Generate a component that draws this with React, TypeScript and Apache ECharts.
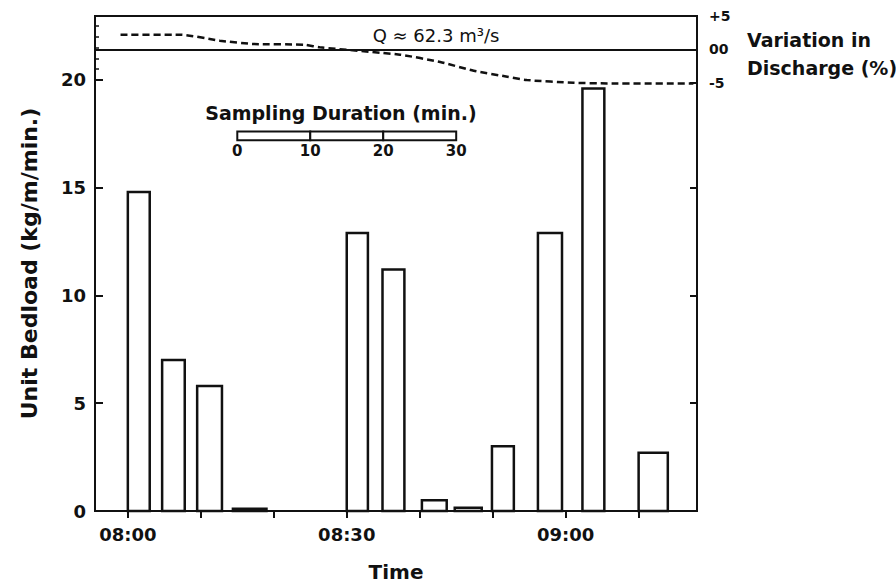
import React, { useEffect, useRef } from "react";
import * as echarts from "echarts";

// ---- data ----
const timeTickMinutes = [0, 10, 20, 30, 40, 50, 60, 70];
const timeLabelMinutes = [0, 30, 60];
const timeLabels = ["08:00", "08:30", "09:00"];
const bedloadTicks = [0, 5, 10, 15, 20];
const bedloadMinorTicks = [20.5, 21, 21.5, 22, 22.5];
const bedloadRightTicks = [5, 10, 15];
// sampling intervals (minutes after 08:00) and unit bedload (kg/m/min.)
const sampleStart = [0, 4.7, 9.5, 14.4, 30, 34.9, 40.3, 44.8, 49.9, 56.2, 62.3, 70];
const sampleEnd = [3, 7.8, 12.9, 19, 32.9, 37.9, 43.7, 48.5, 52.9, 59.5, 65.3, 74];
const unitBedload = [14.8, 7.0, 5.8, 0.1, 12.9, 11.2, 0.5, 0.15, 3.0, 12.9, 19.6, 2.7];
// discharge variation (%)
const dischargeTime = [-1, 7.2, 12.6, 17.3, 24.2, 26.3, 37.3, 42.8, 47.4, 52, 54.7, 61.1, 65.7, 77.5];
const dischargeVariation = [2.2, 2.2, 1.3, 0.8, 0.7, 0.3, -0.8, -1.9, -3.2, -4.1, -4.6, -5.0, -5.1, -5.1];
const dischargeTicks = [5, 0, -5];
const dischargeTickLabels = ["+5", "00", "-5"];
const scaleBarMinutes = [0, 10, 20, 30];

const FONT = '"DejaVu Sans", sans-serif';
const INK = "#111";

export default function App() {
  const ref = useRef<HTMLDivElement>(null);

  useEffect(() => {
    if (!ref.current) return;
    const chart = echarts.init(ref.current, undefined, { renderer: "svg" });

    const barData = sampleStart.map((s, i) => [s, sampleEnd[i], unitBedload[i]]);
    const dischargeData = dischargeTime.map((t, i) => [t, dischargeVariation[i]]);

    const scaleOrigin = 15;
    const scaleY0 = 17.2;
    const scaleY1 = 17.6;

    const option: any = {
      animation: false,
      backgroundColor: "#fff",
      grid: {
        left: 95,
        right: 199,
        top: 16,
        bottom: 74,
        show: true,
        borderColor: INK,
        borderWidth: 2,
        backgroundColor: "transparent",
      },
      xAxis: {
        type: "value",
        min: -4.5,
        max: 78,
        name: "Time",
        nameLocation: "middle",
        nameGap: 51,
        nameTextStyle: { fontFamily: FONT, fontSize: 20, fontWeight: "bold", color: INK },
        axisLine: { show: true, onZero: false, lineStyle: { color: INK, width: 2 } },
        axisTick: {
          show: true,
          inside: false,
          length: 7,
          customValues: timeTickMinutes,
          lineStyle: { color: INK, width: 2 },
        },
        axisLabel: {
          customValues: timeLabelMinutes,
          margin: 14,
          fontFamily: FONT,
          fontSize: 18,
          fontWeight: "bold",
          color: INK,
          formatter: (v: number) => {
            const i = timeLabelMinutes.indexOf(Math.round(v));
            return i >= 0 ? timeLabels[i] : "";
          },
        },
        splitLine: { show: false },
      },
      yAxis: [
        {
          type: "value",
          position: "left",
          min: 0,
          max: 22.96,
          name: "Unit Bedload (kg/m/min.)",
          nameLocation: "middle",
          nameGap: 55,
          nameTextStyle: { fontFamily: FONT, fontSize: 22, fontWeight: "bold", color: INK },
          axisLine: { show: true, onZero: false, lineStyle: { color: INK, width: 2 } },
          axisTick: {
            show: true,
            inside: true,
            length: 8,
            customValues: bedloadTicks,
            lineStyle: { color: INK, width: 2 },
          },
          axisLabel: {
            customValues: bedloadTicks,
            margin: 9,
            fontFamily: FONT,
            fontSize: 18,
            fontWeight: "bold",
            color: INK,
          },
          splitLine: { show: false },
        },
        {
          type: "value",
          position: "left",
          min: 0,
          max: 22.96,
          axisLine: { show: false, onZero: false },
          axisTick: {
            show: true,
            inside: true,
            length: 4,
            customValues: bedloadMinorTicks,
            lineStyle: { color: INK, width: 1.5 },
          },
          axisLabel: { show: false },
          splitLine: { show: false },
        },
        {
          type: "value",
          position: "right",
          min: 0,
          max: 22.96,
          axisLine: { show: true, onZero: false, lineStyle: { color: INK, width: 2 } },
          axisTick: {
            show: true,
            inside: true,
            length: 7,
            customValues: bedloadRightTicks,
            lineStyle: { color: INK, width: 2 },
          },
          axisLabel: { show: false },
          splitLine: { show: false },
        },
        {
          type: "value",
          position: "right",
          min: -69.18,
          max: 5,
          axisLine: { show: false, onZero: false },
          axisTick: {
            show: true,
            inside: true,
            length: 7,
            customValues: dischargeTicks,
            lineStyle: { color: INK, width: 2 },
          },
          axisLabel: {
            customValues: dischargeTicks,
            margin: 12,
            fontFamily: FONT,
            fontSize: 14,
            fontWeight: "bold",
            color: INK,
            formatter: (v: number) => {
              const i = dischargeTicks.indexOf(Math.round(v));
              return i >= 0 ? dischargeTickLabels[i] : "";
            },
          },
          splitLine: { show: false },
        },
      ],
      series: [
        {
          type: "custom",
          name: "Unit bedload",
          xAxisIndex: 0,
          yAxisIndex: 0,
          data: barData,
          encode: { x: [0, 1], y: 2 },
          renderItem: (params: any, api: any) => {
            const p0 = api.coord([api.value(0), 0]);
            const p1 = api.coord([api.value(1), api.value(2)]);
            return {
              type: "rect",
              shape: { x: p0[0], y: p1[1], width: p1[0] - p0[0], height: p0[1] - p1[1] },
              style: { fill: "#fff", stroke: INK, lineWidth: 2.5 },
            };
          },
          z: 2,
        },
        {
          type: "line",
          name: "Variation in discharge",
          xAxisIndex: 0,
          yAxisIndex: 3,
          data: dischargeData,
          smooth: 0.2,
          symbol: "none",
          lineStyle: { color: INK, width: 2.5, type: [7, 4] },
          markLine: {
            silent: true,
            symbol: ["none", "none"],
            label: { show: false },
            lineStyle: { type: "solid", color: INK, width: 2 },
            data: [{ yAxis: 0 }],
          },
          z: 3,
        },
        {
          type: "custom",
          name: "Sampling duration scale",
          xAxisIndex: 0,
          yAxisIndex: 0,
          data: [[scaleOrigin, scaleY0]],
          renderItem: (params: any, api: any) => {
            const children: any[] = [];
            for (let i = 0; i < scaleBarMinutes.length - 1; i++) {
              const a = api.coord([scaleOrigin + scaleBarMinutes[i], scaleY1]);
              const b = api.coord([scaleOrigin + scaleBarMinutes[i + 1], scaleY0]);
              children.push({
                type: "rect",
                shape: { x: a[0], y: a[1], width: b[0] - a[0], height: b[1] - a[1] },
                style: { fill: "#fff", stroke: INK, lineWidth: 2 },
              });
            }
            scaleBarMinutes.forEach((m) => {
              const p = api.coord([scaleOrigin + m, 16.7]);
              children.push({
                type: "text",
                x: p[0],
                y: p[1],
                style: {
                  text: String(m),
                  align: "center",
                  verticalAlign: "middle",
                  font: `bold 15px ${FONT}`,
                  fill: INK,
                },
              });
            });
            const t = api.coord([scaleOrigin + 14.2, 18.45]);
            children.push({
              type: "text",
              x: t[0],
              y: t[1],
              style: {
                text: "Sampling Duration (min.)",
                align: "center",
                verticalAlign: "middle",
                font: `bold 19px ${FONT}`,
                fill: INK,
              },
            });
            return { type: "group", children };
          },
          z: 4,
        },
      ],
      graphic: [
        {
          type: "text",
          x: 436,
          y: 35,
          style: {
            text: "Q ≈ 62.3 m³/s",
            align: "center",
            verticalAlign: "middle",
            font: `18px ${FONT}`,
            fill: INK,
          },
          z: 10,
        },
        {
          type: "text",
          x: 747,
          y: 40,
          style: {
            text: "Variation in",
            align: "left",
            verticalAlign: "middle",
            font: `bold 19px ${FONT}`,
            fill: INK,
          },
        },
        {
          type: "text",
          x: 747,
          y: 68,
          style: {
            text: "Discharge (%)",
            align: "left",
            verticalAlign: "middle",
            font: `bold 19px ${FONT}`,
            fill: INK,
          },
        },
      ],
    };

    chart.setOption(option);
    return () => chart.dispose();
  }, []);

  return (
    <div
      ref={ref}
      style={{ position: "fixed", left: 0, top: 0, width: 896, height: 587, background: "#fff" }}
    />
  );
}
